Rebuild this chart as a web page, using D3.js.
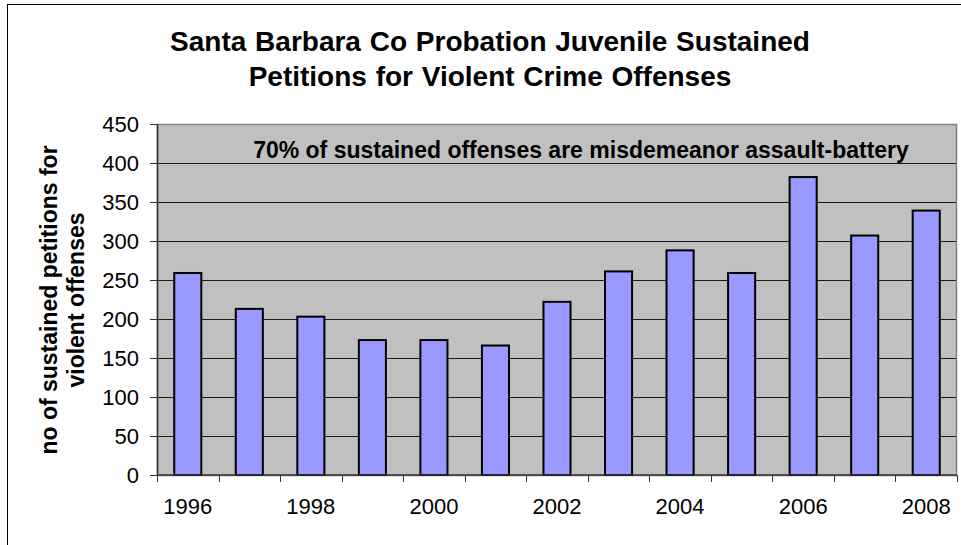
<!DOCTYPE html>
<html>
<head>
<meta charset="utf-8">
<script src="https://cdn.jsdelivr.net/npm/d3@7"></script>
<style>
  body { margin: 0; background: #fff; }
  svg { display: block; font-family: Arial, "Liberation Sans", sans-serif; }
</style>
</head>
<body>
<div class="chart"></div>
<script>
// Data.
const years = [1996, 1997, 1998, 1999, 2000, 2001, 2002, 2003, 2004, 2005, 2006, 2007, 2008];
const petitions = [259, 213, 203, 173, 173, 166, 222, 261, 288, 259, 382, 307, 339];
const yTicks = [0, 50, 100, 150, 200, 250, 300, 350, 400, 450];
const xLabels = [1996, 1998, 2000, 2002, 2004, 2006, 2008];
const titleLines = ['Santa Barbara Co Probation Juvenile Sustained', 'Petitions for Violent Crime Offenses'];
const yLabelLines = ['no of sustained petitions for', 'violent offenses'];
const note = '70% of sustained offenses are misdemeanor assault-battery';

const data = years.map((y, i) => ({ year: y, value: petitions[i] }));

// Dimensions.
const W = 961, H = 545;
const margin = { top: 124, right: 4, bottom: 70, left: 157 };
const width = W - margin.left - margin.right;
const height = H - margin.top - margin.bottom;

const svg = d3.select('.chart')
  .append('svg')
  .attr('width', W)
  .attr('height', H);

// Outer chart frame (runs off the right and bottom edges).
svg.append('rect')
  .attr('x', 7.5).attr('y', 4.5)
  .attr('width', W).attr('height', H)
  .attr('fill', '#fff')
  .attr('stroke', '#000')
  .attr('stroke-width', 1);

// Scales.
const xScale = d3.scaleBand()
  .domain(years)
  .range([0, width])
  .paddingInner(0.56)
  .paddingOuter(0.28);

const yScale = d3.scaleLinear()
  .domain([0, 450])
  .range([height, 0]);

const g = svg.append('g')
  .attr('transform', `translate(${margin.left}, ${margin.top})`);

// Plot area.
g.append('rect')
  .attr('width', width).attr('height', height)
  .attr('fill', '#c0c0c0');

// Gridlines.
g.append('g')
  .selectAll('line')
  .data(yTicks.filter(d => d > 0 && d < 450))
  .enter()
  .append('line')
  .attr('x1', 0).attr('x2', width)
  .attr('y1', d => Math.round(yScale(d)) + 0.5)
  .attr('y2', d => Math.round(yScale(d)) + 0.5)
  .attr('stroke', '#1a1a1a')
  .attr('stroke-width', 1);

// Plot border.
g.append('rect')
  .attr('x', 0.5).attr('y', 0.5)
  .attr('width', width - 1).attr('height', height)
  .attr('fill', 'none')
  .attr('stroke', '#808080')
  .attr('stroke-width', 1.5);

// Note inside the plot.
g.append('text')
  .attr('x', (252 + 910) / 2 - margin.left)
  .attr('y', 158 - margin.top)
  .attr('text-anchor', 'middle')
  .style('font-size', '23px')
  .style('font-weight', 'bold')
  .text(note);

// Bars.
g.append('g')
  .selectAll('rect')
  .data(data)
  .enter()
  .append('rect')
  .attr('x', d => xScale(d.year))
  .attr('y', d => yScale(d.value))
  .attr('width', xScale.bandwidth())
  .attr('height', d => yScale(0) - yScale(d.value))
  .attr('fill', '#9999ff')
  .attr('stroke', '#000')
  .attr('stroke-width', 2);

// Y axis.
const yAxis = d3.axisLeft(yScale)
  .tickValues(yTicks)
  .tickSizeInner(7)
  .tickSizeOuter(0)
  .tickPadding(11);

const yAxisDraw = g.append('g')
  .attr('class', 'y axis')
  .call(yAxis);
yAxisDraw.select('.domain').attr('stroke', '#333').attr('stroke-width', 1.5);
yAxisDraw.selectAll('.tick line').attr('stroke', '#333');
yAxisDraw.selectAll('.tick text')
  .style('font-size', '22px')
  .style('font-family', 'Arial, "Liberation Sans", sans-serif')
  .attr('fill', '#000');

// X axis: ticks between categories, labels every other year.
const step = xScale.step();
const bounds = years.map(y => xScale(y) + xScale.bandwidth() / 2 - step / 2).concat([width]);

const xAxisDraw = g.append('g')
  .attr('class', 'x axis')
  .attr('transform', `translate(0, ${height})`);

xAxisDraw.append('line')
  .attr('x1', 0).attr('x2', width)
  .attr('y1', 0).attr('y2', 0)
  .attr('stroke', '#333')
  .attr('stroke-width', 1.5);

xAxisDraw.selectAll('.xtick')
  .data(bounds)
  .enter()
  .append('line')
  .attr('class', 'xtick')
  .attr('x1', d => Math.round(d) + 0.5).attr('x2', d => Math.round(d) + 0.5)
  .attr('y1', 0).attr('y2', 7)
  .attr('stroke', '#333');

xAxisDraw.selectAll('.xlabel')
  .data(xLabels)
  .enter()
  .append('text')
  .attr('class', 'xlabel')
  .attr('x', d => xScale(d) + xScale.bandwidth() / 2)
  .attr('y', 514 - margin.top - height)
  .attr('text-anchor', 'middle')
  .style('font-size', '22px')
  .text(d => d);

// Title.
svg.append('g')
  .selectAll('text')
  .data(titleLines)
  .enter()
  .append('text')
  .attr('x', 490)
  .attr('y', (d, i) => 51 + i * 35)
  .attr('text-anchor', 'middle')
  .style('font-size', '28px')
  .style('font-weight', 'bold')
  .style('word-spacing', '1px')
  .text(d => d);

// Y axis title.
svg.append('g')
  .attr('transform', 'translate(0, 300) rotate(-90)')
  .selectAll('text')
  .data(yLabelLines)
  .enter()
  .append('text')
  .attr('x', 0)
  .attr('y', (d, i) => 57 + i * 27)
  .attr('text-anchor', 'middle')
  .style('font-size', '23px')
  .style('font-weight', 'bold')
  .text(d => d);
</script>
</body>
</html>
